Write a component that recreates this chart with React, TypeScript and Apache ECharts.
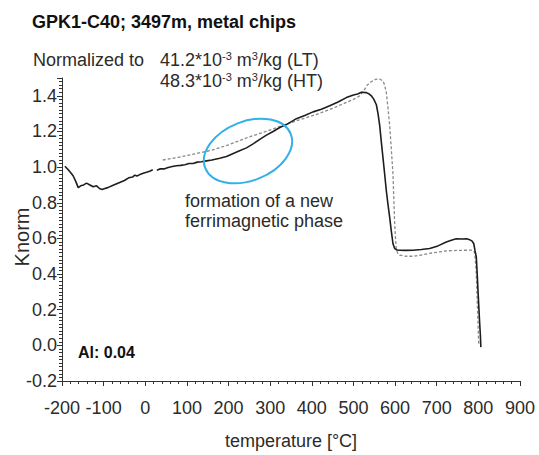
import React, { useEffect, useRef } from "react";
import * as echarts from "echarts";

// Heating run (LT + HT), solid black curve: temperature [°C] and normalized susceptibility
const heatingT = [
  -193, -185, -178, -173, -167, -161, -155, -148, -141, -133, -125, -117, -110, -104, -97,
  -90, -80, -70, -60, -50, -40, -30, -25, -20, -13, -5, 5, 12, 18, 23, 28, 35, 45, 55, 65,
  75, 85, 95, 105, 115, 125, 135, 147, 160, 179, 195, 210, 225, 243, 260, 275, 290, 307,
  323, 340, 363, 383, 403, 423, 443, 463, 483, 500, 510, 519, 531, 538, 543, 549, 555, 559,
  563, 567, 571, 575, 579, 583, 587, 591, 595, 599, 605, 611, 625, 643, 663, 683, 703, 723,
  735, 747, 760, 772, 779, 785, 789, 792, 795, 797, 799, 801, 803, 805, 806,
];
const heatingK = [
  1.005, 0.985, 0.965, 0.95, 0.92, 0.885, 0.895, 0.9, 0.91, 0.9, 0.89, 0.895, 0.88, 0.875, 0.88,
  0.885, 0.895, 0.905, 0.915, 0.925, 0.94, 0.945, 0.955, 0.95, 0.958, 0.965, 0.972, 0.978, 0.985, null, 0.983, 0.99, 0.99, 0.998, 1.003,
  1.008, 1.01, 1.013, 1.02, 1.02, 1.028, 1.03, 1.035, 1.04, 1.05, 1.06, 1.075, 1.09, 1.108, 1.132, 1.156, 1.178, 1.2,
  1.222, 1.24, 1.272, 1.29, 1.31, 1.325, 1.344, 1.365, 1.39, 1.405, 1.41, 1.42, 1.418, 1.41, 1.4, 1.38, 1.35, 1.3,
  1.234, 1.14, 1.05, 0.96, 0.866, 0.79, 0.718, 0.64, 0.57, 0.543, 0.535, 0.534, 0.533, 0.534, 0.538, 0.543, 0.558, 0.58,
  0.59, 0.598, 0.597, 0.598, 0.593, 0.585, 0.57, 0.53, 0.497, 0.41, 0.313, 0.22, 0.13, 0.05, -0.01,
];

// Cooling run, dashed grey curve
const coolingT = [
  42, 80, 120, 160, 200, 250, 290, 330, 370, 410, 450, 480, 500, 515, 525, 533, 539, 547, 553,
  559, 565, 571, 575, 579, 583, 587, 591, 595, 599, 601, 603, 607, 611, 625, 643, 663, 683, 703,
  723, 750, 783, 789, 791, 793, 795, 797, 799, 801,
];
const coolingK = [
  1.04, 1.055, 1.075, 1.095, 1.125, 1.17, 1.2, 1.234, 1.265, 1.295, 1.33, 1.36, 1.38, 1.4, 1.43, 1.46, 1.473, 1.485, 1.492,
  1.495, 1.492, 1.483, 1.46, 1.418, 1.33, 1.234, 1.1, 0.958, 0.68, 0.6, 0.534, 0.515, 0.506, 0.5, 0.5, 0.507, 0.516, 0.523,
  0.53, 0.533, 0.534, 0.53, 0.52, 0.47, 0.405, 0.27, 0.13, 0.0,
];

const titleText = "GPK1-C40; 3497m, metal chips";
const normLabel = "Normalized to";
const normLT = ["41.2*10", "-3", " m", "3", "/kg (LT)"];
const normHT = ["48.3*10", "-3", " m", "3", "/kg (HT)"];
const annotationLines = ["formation of a new", "ferrimagnetic phase"];
const alText = "Al: 0.04";

const FONT = "'Liberation Sans', Arial, Helvetica, sans-serif";
const INK = "#2b2b2b";

function pairs(xs: number[], ys: (number | null)[]) {
  return xs.map((x, i) => [x, ys[i] === null ? "-" : ys[i]]);
}

function supRich(parts: string[]) {
  return parts.map((p, i) => (i % 2 === 1 ? `{s|${p}}` : `{n|${p}}`)).join("");
}

const rich = {
  n: { fontSize: 18, fontFamily: FONT, fill: INK, lineHeight: 20 },
  s: { fontSize: 11, fontFamily: FONT, fill: INK, lineHeight: 11, verticalAlign: "top" },
};

export default function App() {
  const ref = useRef<HTMLDivElement>(null);

  useEffect(() => {
    if (!ref.current) return;
    const chart = echarts.init(ref.current, null, { renderer: "svg" });
    chart.setOption({
      animation: false,
      backgroundColor: "#ffffff",
      grid: { left: 62, right: 19, top: 78, bottom: 69, containLabel: false },
      xAxis: {
        type: "value",
        min: -200,
        max: 900,
        interval: 100,
        name: "temperature [°C]",
        nameLocation: "middle",
        nameGap: 51,
        nameTextStyle: { fontSize: 18, fontFamily: FONT, color: INK },
        axisLine: { show: true, onZero: false, lineStyle: { color: "#333", width: 1 } },
        axisTick: { show: true, length: 5, lineStyle: { color: "#333" } },
        minorTick: { show: true, splitNumber: 5, length: 3, lineStyle: { color: "#333" } },
        axisLabel: { fontSize: 18, fontFamily: FONT, color: INK, margin: 18 },
        splitLine: { show: false },
        minorSplitLine: { show: false },
      },
      yAxis: {
        type: "value",
        min: -0.2,
        max: 1.5,
        interval: 0.2,
        axisLine: { show: true, onZero: false, lineStyle: { color: "#333", width: 1 } },
        axisTick: { show: true, length: 5, lineStyle: { color: "#333" } },
        minorTick: { show: true, splitNumber: 10, length: 3, lineStyle: { color: "#333" } },
        axisLabel: {
          fontSize: 18,
          fontFamily: FONT,
          color: INK,
          margin: 5,
          showMaxLabel: false,
          formatter: (v: number) => (Math.abs(v - 1.5) < 1e-6 ? "" : v.toFixed(1)),
        },
        splitLine: { show: false },
        minorSplitLine: { show: false },
      },
      series: [
        {
          type: "line",
          name: "cooling",
          data: pairs(coolingT, coolingK),
          showSymbol: false,
          symbol: "none",
          lineStyle: { color: "#8a8a8a", width: 1.3, type: [3, 2] },
          z: 2,
        },
        {
          type: "line",
          name: "heating",
          data: pairs(heatingT, heatingK),
          showSymbol: false,
          symbol: "none",
          connectNulls: false,
          lineStyle: { color: "#1e1e1e", width: 1.6 },
          z: 3,
        },
      ],
      graphic: [
        {
          type: "text",
          x: 32,
          y: 22,
          style: {
            text: titleText,
            fontSize: 18,
            fontWeight: "bold",
            fontFamily: FONT,
            fill: "#111",
            textVerticalAlign: "middle",
          },
        },
        {
          type: "text",
          x: 33,
          y: 60,
          style: { text: normLabel, fontSize: 18, fontFamily: FONT, fill: INK, textVerticalAlign: "middle" },
        },
        {
          type: "text",
          x: 160,
          y: 50,
          style: { text: supRich(normLT), rich, textVerticalAlign: "top" },
        },
        {
          type: "text",
          x: 160,
          y: 71,
          style: { text: supRich(normHT), rich, textVerticalAlign: "top" },
        },
        {
          type: "text",
          x: 22,
          y: 237,
          rotation: Math.PI / 2,
          style: {
            text: "Knorm",
            fontSize: 20,
            fontFamily: FONT,
            fill: INK,
            textAlign: "center",
            textVerticalAlign: "middle",
          },
        },
        {
          type: "text",
          x: 78,
          y: 352,
          style: {
            text: alText,
            fontSize: 16,
            fontWeight: "bold",
            fontFamily: FONT,
            fill: "#111",
            textVerticalAlign: "middle",
          },
        },
        {
          type: "text",
          x: 185,
          y: 201,
          style: {
            text: annotationLines[0],
            fontSize: 18,
            fontFamily: FONT,
            fill: INK,
            textVerticalAlign: "middle",
          },
        },
        {
          type: "text",
          x: 185,
          y: 221,
          style: {
            text: annotationLines[1],
            fontSize: 18,
            fontFamily: FONT,
            fill: INK,
            textVerticalAlign: "middle",
          },
        },
        {
          type: "ellipse",
          x: 248,
          y: 151,
          rotation: 0.38,
          shape: { cx: 0, cy: 0, rx: 46, ry: 29.5 },
          style: { fill: "none", stroke: "#33b0e8", lineWidth: 2 },
          z: 10,
        },
      ],
    });
    return () => chart.dispose();
  }, []);

  return (
    <div
      ref={ref}
      style={{ position: "fixed", left: 0, top: 0, width: 539, height: 455, background: "#fff" }}
    />
  );
}
